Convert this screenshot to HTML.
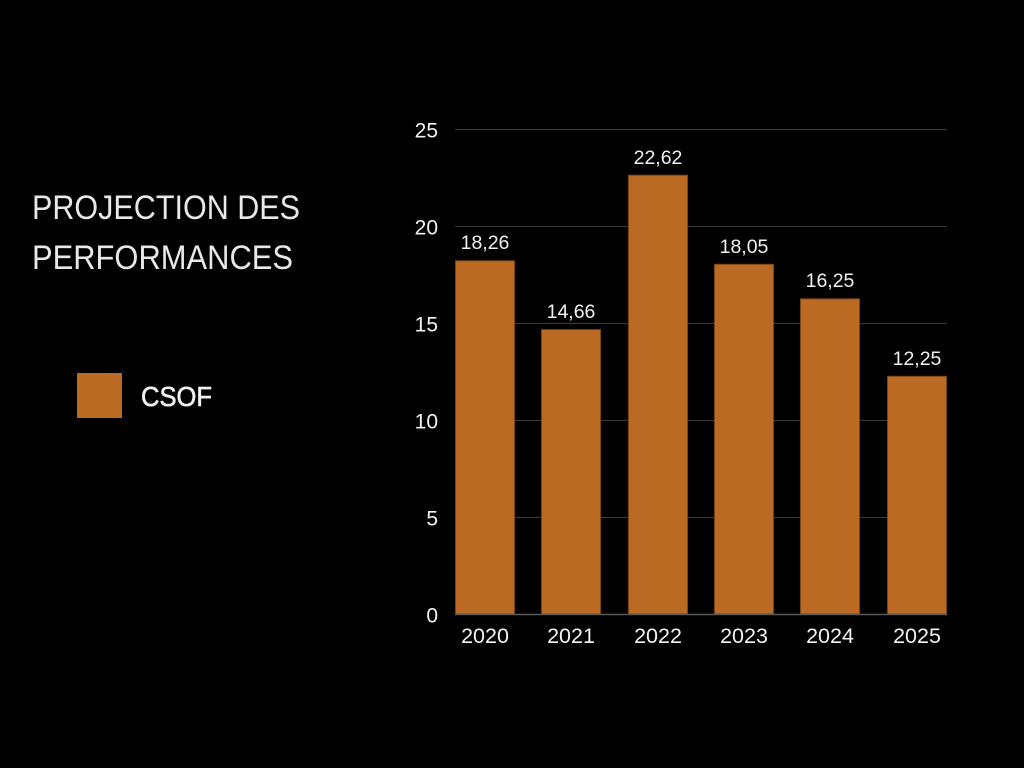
<!DOCTYPE html>
<html>
<head>
<meta charset="utf-8">
<style>
  html,body{margin:0;padding:0;background:#000;}
  svg{display:block;}
  text{font-family:"Liberation Sans", sans-serif;}
</style>
</head>
<body>
<svg width="1024" height="768" viewBox="0 0 1024 768" xmlns="http://www.w3.org/2000/svg">
  <rect x="0" y="0" width="1024" height="768" fill="#000"/>

  <!-- Title -->
  <text x="32" y="219" font-size="34" fill="#e8e8e8" textLength="268" lengthAdjust="spacingAndGlyphs">PROJECTION DES</text>
  <text x="32" y="269" font-size="34" fill="#e8e8e8" textLength="261" lengthAdjust="spacingAndGlyphs">PERFORMANCES</text>

  <!-- Legend -->
  <rect x="77" y="373" width="45" height="45" fill="#BA6A22"/>
  <text x="141" y="406" font-size="28" fill="#f2f2f2" stroke="#f2f2f2" stroke-width="0.6" textLength="71" lengthAdjust="spacingAndGlyphs">CSOF</text>

  <!-- Gridlines -->
  <g stroke="#3a3a3a" stroke-width="1">
    <line x1="455" y1="129.5" x2="947" y2="129.5"/>
    <line x1="455" y1="226.5" x2="947" y2="226.5"/>
    <line x1="455" y1="323.5" x2="947" y2="323.5"/>
    <line x1="455" y1="420.5" x2="947" y2="420.5"/>
    <line x1="455" y1="517.5" x2="947" y2="517.5"/>
  </g>

  <!-- Y tick labels -->
  <g font-size="21" fill="#f2f2f2" text-anchor="end">
    <text x="438" y="137.5">25</text>
    <text x="438" y="234.5">20</text>
    <text x="438" y="331.5">15</text>
    <text x="438" y="428.5">10</text>
    <text x="438" y="525.5">5</text>
    <text x="438" y="622.5">0</text>
  </g>

  <!-- Bars -->
  <g fill="#BA6A22" stroke="#7a4414" stroke-width="1">
    <rect x="455.5" y="260.8" width="59" height="353.2"/>
    <rect x="541.5" y="329.6" width="59" height="284.4"/>
    <rect x="628.5" y="175.2" width="59" height="438.8"/>
    <rect x="714.5" y="264.3" width="59" height="349.7"/>
    <rect x="800.5" y="298.8" width="59" height="315.2"/>
    <rect x="887.5" y="376.3" width="59" height="237.7"/>
  </g>

  <!-- Baseline -->
  <line x1="455" y1="614.5" x2="947" y2="614.5" stroke="#5a5a5a" stroke-width="1.5"/>

  <!-- Value labels -->
  <g font-size="19.5" fill="#f2f2f2" text-anchor="middle">
    <text x="485" y="249">18,26</text>
    <text x="571" y="318">14,66</text>
    <text x="658" y="164">22,62</text>
    <text x="744" y="253">18,05</text>
    <text x="830" y="287">16,25</text>
    <text x="917" y="365">12,25</text>
  </g>

  <!-- X labels -->
  <g font-size="21.5" fill="#f2f2f2" text-anchor="middle">
    <text x="485" y="643">2020</text>
    <text x="571" y="643">2021</text>
    <text x="658" y="643">2022</text>
    <text x="744" y="643">2023</text>
    <text x="830" y="643">2024</text>
    <text x="917" y="643">2025</text>
  </g>
</svg>
</body>
</html>
